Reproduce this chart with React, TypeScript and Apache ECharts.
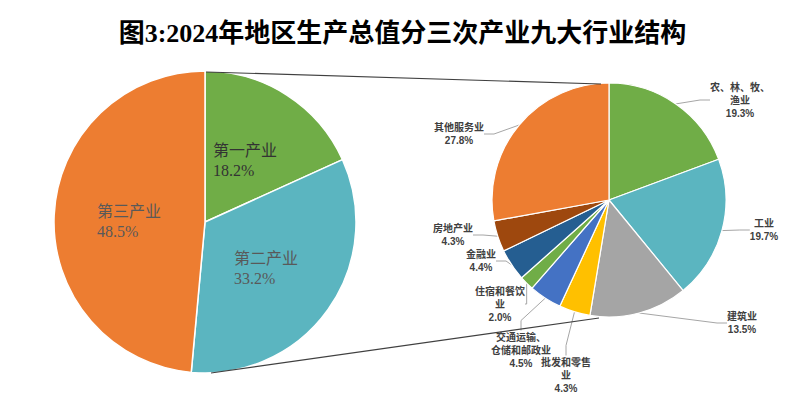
import React, { useEffect, useRef } from "react";
import * as echarts from "echarts";

const titleText = "图3:2024年地区生产总值分三次产业九大行业结构";

const industryNames = ["第一产业", "第二产业", "第三产业"];
const industryValues = [18.2, 33.2, 48.5];
const industryColors = ["#70AD47", "#5BB5C0", "#ED7D31"];

const sectorNames = [
  "农、林、牧、渔业",
  "工业",
  "建筑业",
  "批发和零售业",
  "交通运输、仓储和邮政业",
  "住宿和餐饮业",
  "金融业",
  "房地产业",
  "其他服务业",
];
const sectorLabelText = [
  "农、林、牧、\n渔业",
  "工业",
  "建筑业",
  "批发和零售\n业",
  "交通运输、\n仓储和邮政业",
  "住宿和餐饮\n业",
  "金融业",
  "房地产业",
  "其他服务业",
];
const sectorValues = [19.3, 19.7, 13.5, 4.3, 4.5, 2.0, 4.4, 4.3, 27.8];
const sectorColors = [
  "#70AD47",
  "#5BB5C0",
  "#A5A5A5",
  "#FFC000",
  "#4472C4",
  "#70AD47",
  "#255E91",
  "#9E480E",
  "#ED7D31",
];

// layout (label anchor positions, px)
const LEFT = { cx: 205, cy: 222, r: 151 };
const RIGHT = { cx: 609, cy: 200, r: 117 };
const leftLabelPos = [
  [213, 160],
  [234, 268],
  [97, 221],
];
const leftLabelColors = ["#333333", "#595959", "#595959"];
const rightLabelPos = [
  [740, 100],
  [764, 230],
  [742, 323],
  [566, 375],
  [521, 350],
  [500, 304],
  [481, 261],
  [453, 235],
  [459, 134],
];

export default function App() {
  const ref = useRef<HTMLDivElement>(null);
  useEffect(() => {
    document.body.style.margin = "0";
    const chart = echarts.init(ref.current!, null, { renderer: "svg" });
    const option: any = {
      animation: false,
      backgroundColor: "#FFFFFF",
      title: {
        text: titleText,
        left: "center",
        top: 15,
        textStyle: {
          fontFamily: '"Liberation Serif", "Noto Sans CJK SC", serif',
          fontSize: 26,
          fontWeight: "bold",
          color: "#000000",
        },
      },
      graphic: [
        {
          type: "line",
          shape: { x1: LEFT.cx + 1, y1: LEFT.cy - LEFT.r + 1, x2: RIGHT.cx - 8, y2: RIGHT.cy - RIGHT.r + 1 },
          style: { stroke: "#404040", lineWidth: 1.2 },
          z: 10,
        },
        {
          type: "line",
          shape: { x1: LEFT.cx + 6, y1: LEFT.cy + LEFT.r, x2: RIGHT.cx - 10, y2: RIGHT.cy + RIGHT.r + 1 },
          style: { stroke: "#404040", lineWidth: 1.2 },
          z: 10,
        },
      ],
      series: [
        {
          type: "pie",
          center: [LEFT.cx, LEFT.cy],
          radius: [0, LEFT.r],
          startAngle: 90,
          clockwise: true,
          avoidLabelOverlap: false,
          itemStyle: { borderColor: "#FFFFFF", borderWidth: 1.5 },
          label: {
            show: true,
            position: "inside",
            align: "left",
            fontFamily: '"Liberation Serif", "Noto Sans CJK SC", serif',
            fontSize: 16,
            lineHeight: 20,
            formatter: (p: any) => `${p.name}\n${p.value.toFixed(1)}%`,
          },
          labelLine: { show: false },
          labelLayout: (p: any) => ({
            x: leftLabelPos[p.dataIndex][0],
            y: leftLabelPos[p.dataIndex][1],
            align: "left",
            verticalAlign: "middle",
          }),
          data: industryNames.map((n, i) => ({
            name: n,
            value: industryValues[i],
            itemStyle: { color: industryColors[i] },
            label: { color: leftLabelColors[i] },
          })),
        },
        {
          type: "pie",
          center: [RIGHT.cx, RIGHT.cy],
          radius: [0, RIGHT.r],
          startAngle: 90,
          clockwise: true,
          avoidLabelOverlap: false,
          itemStyle: { borderColor: "#FFFFFF", borderWidth: 1.2 },
          label: {
            show: true,
            position: "outside",
            align: "center",
            fontFamily: '"Liberation Sans", "Noto Sans CJK SC", sans-serif',
            fontSize: 10,
            fontWeight: "bold",
            lineHeight: 13,
            color: "#404040",
            formatter: (p: any) => `${sectorLabelText[p.dataIndex]}\n${p.value.toFixed(1)}%`,
          },
          labelLine: {
            show: true,
            length: 10,
            length2: 10,
            lineStyle: { color: "#A6A6A6", width: 1 },
          },
          labelLayout: (p: any) => ({
            x: rightLabelPos[p.dataIndex][0],
            y: rightLabelPos[p.dataIndex][1],
            align: "center",
            verticalAlign: "middle",
          }),
          data: sectorNames.map((n, i) => ({
            name: n,
            value: sectorValues[i],
            itemStyle: { color: sectorColors[i] },
          })),
        },
      ],
    };
    chart.setOption(option);
    return () => chart.dispose();
  }, []);
  return <div ref={ref} style={{ width: 805, height: 397 }} />;
}
